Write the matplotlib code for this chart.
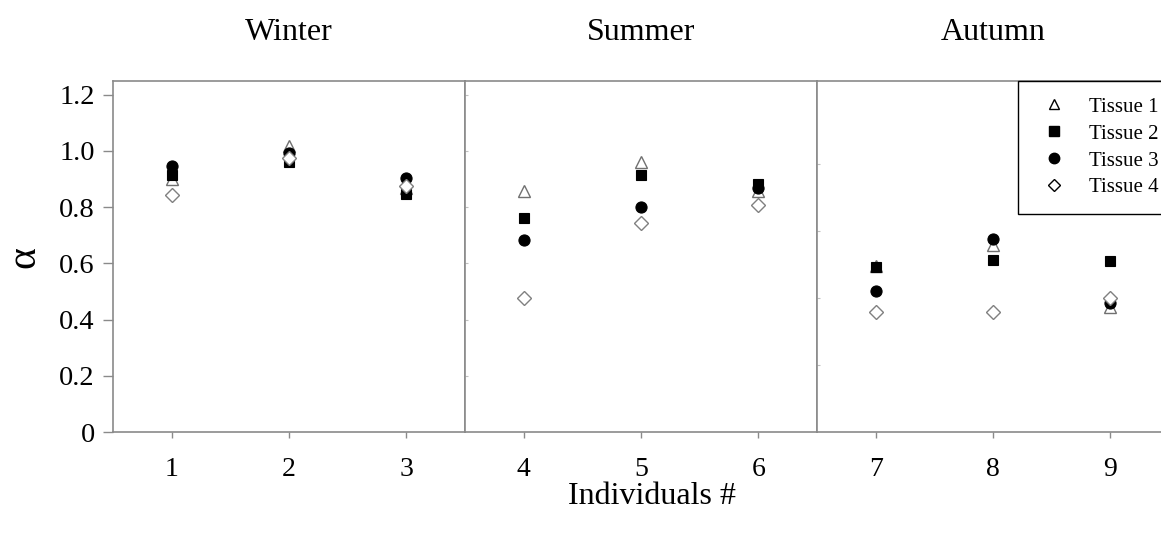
import matplotlib
matplotlib.use("Agg")
import matplotlib.pyplot as plt
from matplotlib.lines import Line2D

plt.rcParams['font.family'] = ['Liberation Serif', 'DejaVu Serif']

seasons = ["Winter", "Summer", "Autumn"]
individuals = [[1, 2, 3], [4, 5, 6], [7, 8, 9]]

# alpha values per tissue, individuals 1..9
tissue1 = [0.90, 1.018, 0.868, 0.856, 0.960, 0.856, 0.590, 0.664, 0.446]
tissue2 = [0.915, 0.959, 0.848, 0.761, 0.913, 0.882, 0.585, 0.613, 0.609]
tissue3 = [0.945, 0.992, 0.903, 0.684, 0.800, 0.868, 0.503, 0.687, 0.458]
tissue4 = [0.843, 0.975, 0.875, 0.476, 0.743, 0.808, 0.426, 0.426, 0.476]
labels = ["Tissue 1", "Tissue 2", "Tissue 3", "Tissue 4"]

styles = [
    dict(marker="^", mfc="white", mec="#707070", ms=8.5, mew=1.0),
    dict(marker="s", mfc="black", mec="black", ms=7, mew=0.8),
    dict(marker="o", mfc="black", mec="black", ms=8, mew=0.8),
    dict(marker="D", mfc="white", mec="#808080", ms=7, mew=1.0),
]
series = [tissue1, tissue2, tissue3, tissue4]

fig = plt.figure(figsize=(11.61, 5.35), dpi=100)
W, H = 1161.0, 535.0
lefts = [113, 465, 817]
pw = 352
top, bottom = 80.5, 432
grey = "#8a8a8a"

for k in range(3):
    ax = fig.add_axes([lefts[k] / W, (H - bottom) / H, pw / W, (bottom - top) / H])
    xs = individuals[k]
    for s, st in zip(series, styles):
        ax.plot(xs, s[3 * k:3 * k + 3], linestyle="none", zorder=3, clip_on=False, **st)
    ax.set_xlim(xs[0] - 0.5, xs[-1] + 0.5)
    ax.set_ylim(0, 1.25)
    ax.set_xticks(xs)
    ax.set_xticklabels([str(x) for x in xs], fontsize=20)
    ax.tick_params(axis="x", direction="out", length=4, width=1, color=grey, pad=14)
    for sp in ax.spines.values():
        sp.set_color(grey)
        sp.set_linewidth(1.2)
    if k == 0:
        ax.set_yticks([0, 0.2, 0.4, 0.6, 0.8, 1.0, 1.2])
        ax.set_yticklabels(["0", "0.2", "0.4", "0.6", "0.8", "1.0", "1.2"], fontsize=20.5)
        ax.tick_params(axis="y", direction="out", length=7, width=1, color=grey, pad=6)
    elif k == 1:
        ax.set_yticks([0.2, 0.4, 0.6, 0.8, 1.0, 1.2])
        ax.set_yticklabels([])
        ax.tick_params(axis="y", direction="in", length=2, width=0.8, color="#c0c0c0")
    else:
        ax.set_yticks([0.239, 0.477, 0.716, 0.954])
        ax.set_yticklabels([])
        ax.tick_params(axis="y", direction="in", length=2, width=0.8, color="#c0c0c0")
    fig.text((lefts[k] + pw / 2) / W, 1 - 33 / H, seasons[k], fontsize=23,
             ha="center", va="center")

fig.text(24 / W, 1 - 257 / H, "\u03b1", fontsize=30, rotation=90, ha="center", va="center")
fig.text(652 / W, 1 - 496 / H, "Individuals #", fontsize=23, ha="center", va="center")

handles = [
    Line2D([], [], linestyle="none", marker="^", mfc="white", mec="black", ms=7, mew=1.0),
    Line2D([], [], linestyle="none", marker="s", mfc="black", mec="black", ms=6.5),
    Line2D([], [], linestyle="none", marker="o", mfc="black", mec="black", ms=7.5),
    Line2D([], [], linestyle="none", marker="D", mfc="white", mec="black", ms=6, mew=1.0),
]
leg = fig.legend(handles, labels, loc="upper left",
                 bbox_to_anchor=(1018 / W, 1 - 80.5 / H), bbox_transform=fig.transFigure,
                 borderaxespad=0, fancybox=False, fontsize=15, labelspacing=0.35,
                 handlelength=1.9, handletextpad=0.7, borderpad=0.8, framealpha=1)
leg.get_frame().set_edgecolor("black")
leg.get_frame().set_linewidth(1.0)

fig.savefig("out.png", dpi=100)
